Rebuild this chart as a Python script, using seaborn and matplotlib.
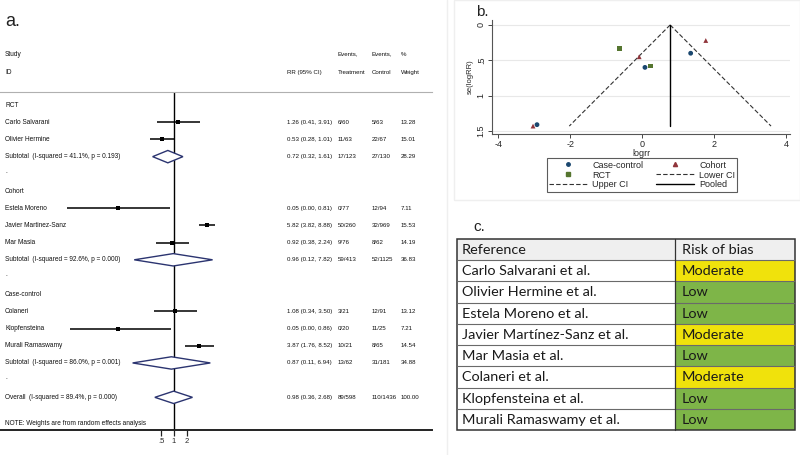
import matplotlib
matplotlib.use("Agg")
import numpy as np
import pandas as pd
import matplotlib.pyplot as plt
import seaborn as sns
from matplotlib import transforms, font_manager
from matplotlib.patches import Polygon, Rectangle
from matplotlib.lines import Line2D
from matplotlib.ticker import NullLocator

# ---- data: forest plot (a) ----
groups = ["RCT", "Cohort", "Case-control"]
studies = ["Carlo Salvarani", "Olivier Hermine", "Estela Moreno", "Javier Martinez-Sanz",
           "Mar Masia", "Colaneri", "Klopfensteina", "Murali Ramaswamy"]
study_group = ["RCT", "RCT", "Cohort", "Cohort", "Cohort", "Case-control", "Case-control", "Case-control"]
rr = [1.26, 0.53, 0.05, 5.82, 0.92, 1.08, 0.05, 3.87]
rr_lo = [0.41, 0.28, 0.0034, 3.82, 0.38, 0.34, 0.0039, 1.76]
rr_hi = [3.91, 1.01, 0.81, 8.88, 2.24, 3.50, 0.86, 8.52]
events_t = ["6/60", "11/63", "0/77", "50/260", "9/76", "3/21", "0/20", "10/21"]
events_c = ["5/63", "22/67", "12/94", "32/969", "8/62", "12/91", "11/25", "8/65"]
weight = [13.28, 15.01, 7.11, 15.53, 14.19, 13.12, 7.21, 14.54]

sub_labels = ["Subtotal  (I-squared = 41.1%, p = 0.193)",
              "Subtotal  (I-squared = 92.6%, p = 0.000)",
              "Subtotal  (I-squared = 86.0%, p = 0.001)",
              "Overall  (I-squared = 89.4%, p = 0.000)"]
sub_rr = [0.72, 0.96, 0.87, 0.98]
sub_lo = [0.32, 0.12, 0.11, 0.36]
sub_hi = [1.61, 7.82, 6.94, 2.68]
sub_ev_t = ["17/123", "59/413", "13/62", "89/598"]
sub_ev_c = ["27/130", "52/1125", "31/181", "110/1436"]
sub_w = [28.29, 36.83, 34.88, 100.00]

# ---- data: funnel plot (b) ----
design = ["RCT", "RCT", "Cohort", "Cohort", "Cohort", "Case-control", "Case-control", "Case-control"]
logrr = [0.23, -0.63, -3.03, 1.77, -0.08, 0.08, -2.92, 1.35]
se_logrr = [0.58, 0.33, 1.43, 0.22, 0.45, 0.60, 1.41, 0.40]
pooled = 0.78
se_max = 1.43

# ---- data: risk of bias table (c) ----
refs = ["Carlo Salvarani et al.", "Olivier Hermine et al.", "Estela Moreno et al.",
        "Javier Martínez-Sanz et al.", "Mar Masia et al.", "Colaneri et al.",
        "Klopfensteina et al.", "Murali Ramaswamy et al."]
risk = ["Moderate", "Low", "Low", "Moderate", "Low", "Moderate", "Low", "Low"]

sns.set_theme(style="white")
names = {f.name for f in font_manager.fontManager.ttflist}
narrow = "Liberation Sans Narrow" if "Liberation Sans Narrow" in names else "Liberation Sans"
plt.rcParams["font.family"] = ["Liberation Sans", "DejaVu Sans"]

W, H = 800, 455
fig = plt.figure(figsize=(8, 4.55), dpi=100)


def fx(px):
    return px / W


def fy(py):
    return 1 - py / H


is_narrow = narrow != "Liberation Sans"
tk = dict(family=narrow, fontsize=5.6 if is_narrow else 4.7, color="#111111", va="center")
tn = dict(family=narrow, fontsize=5.4 if is_narrow else 4.4, color="#111111", va="center")

# ---------------- panel a: forest plot ----------------
ax = fig.add_axes([0, fy(430), 432 / W, (430 - 92) / H])
ax.set_xscale("log", base=2)
ax.set_xlim(2 ** (-174 / 13), 2 ** (258 / 13))
ax.set_ylim(18.9, -0.76)
tr = transforms.blended_transform_factory(fig.transFigure, ax.transData)

col_rr, col_t, col_c, col_w = fx(287), fx(338), fx(372), fx(401)

row = 0
rows_study = []
rows_sub = []
for g in groups:
    ax.text(fx(5), row, g, transform=tr, **tk)
    row += 1
    for i, s in enumerate(studies):
        if study_group[i] == g:
            rows_study.append(row)
            row += 1
    rows_sub.append(row)
    row += 1
    ax.text(fx(5), row - 0.15, ".", transform=tr, **tk)
    row += 1
rows_sub.append(row)

for i, r in enumerate(rows_study):
    ax.text(fx(5), r, studies[i], transform=tr, **tk)
    ax.text(col_rr, r, f"{rr[i]:.2f} ({rr_lo[i]:.2f}, {rr_hi[i]:.2f})", transform=tr, **tn)
    ax.text(col_t, r, events_t[i], transform=tr, **tn)
    ax.text(col_c, r, events_c[i], transform=tr, **tn)
    ax.text(col_w, r, f"{weight[i]:.2f}", transform=tr, **tn)
ax.hlines(rows_study, rr_lo, rr_hi, color="black", lw=1.1)
sns.scatterplot(x=rr, y=rows_study, marker="s", color="black", s=7, linewidth=0, ax=ax)

for k, r in enumerate(rows_sub):
    ax.text(fx(5), r, sub_labels[k], transform=tr, **tk)
    ax.text(col_rr, r, f"{sub_rr[k]:.2f} ({sub_lo[k]:.2f}, {sub_hi[k]:.2f})", transform=tr, **tn)
    ax.text(col_t, r, sub_ev_t[k], transform=tr, **tn)
    ax.text(col_c, r, sub_ev_c[k], transform=tr, **tn)
    ax.text(col_w, r, f"{sub_w[k]:.2f}", transform=tr, **tn)
    d = Polygon([(sub_lo[k], r), (sub_rr[k], r - 0.36), (sub_hi[k], r), (sub_rr[k], r + 0.36)],
                closed=True, facecolor="white", edgecolor="#2b3470", lw=1.0, zorder=3)
    ax.add_patch(d)

ax.text(fx(5), 18.5, "NOTE: Weights are from random effects analysis", transform=tr, **tk)

# headers
ax.text(fx(5), -2.97, "Study", transform=tr, **tk)
ax.text(fx(5), -1.92, "ID", transform=tr, **tk)
ax.text(col_rr, -1.92, "RR (95% CI)", transform=tr, **tn)
ax.text(col_t, -2.97, "Events,", transform=tr, **tn)
ax.text(col_t, -1.92, "Treatment", transform=tr, **tn)
ax.text(col_c, -2.97, "Events,", transform=tr, **tn)
ax.text(col_c, -1.92, "Control", transform=tr, **tn)
ax.text(col_w, -2.97, "%", transform=tr, **tn)
ax.text(col_w, -1.92, "Weight", transform=tr, **tn)

ax.axvline(1, color="black", lw=1.0, zorder=2)
ax.axvline(sub_rr[-1], color="black", lw=0.6, ls=(0, (3, 2)), zorder=2)

for side in ["left", "right"]:
    ax.spines[side].set_visible(False)
ax.spines["top"].set_color("#b0b0b0")
ax.spines["top"].set_linewidth(0.8)
ax.spines["bottom"].set_color("#222222")
ax.spines["bottom"].set_linewidth(1.4)
ax.set_yticks([])
ax.xaxis.set_minor_locator(NullLocator())
ax.set_xticks([0.5, 1, 2])
ax.set_xticklabels([".5", "1", "2"], family=narrow, fontsize=5.5)
ax.tick_params(axis="x", direction="out", length=4.5, width=0.9, color="#222222", pad=1.5, bottom=True)

fig.text(fx(5), fy(22), "a.", fontsize=13, va="center", ha="left", color="#222222")

# ---------------- panel b: funnel plot ----------------
fig.add_artist(Rectangle((fx(454), fy(200)), (W - 454) / W, 200 / H, transform=fig.transFigure,
                         facecolor="none", edgecolor="#efefef", lw=1.0))
fig.add_artist(Line2D([fx(447), fx(447)], [0, 1], transform=fig.transFigure, color="#efefef", lw=1.0))

axb = fig.add_axes([fx(492), fy(134), 298 / W, 114 / H])
fun = pd.DataFrame({"logrr": logrr, "se": se_logrr, "design": design})
pal = {"Case-control": "#1a476f", "Cohort": "#90353b", "RCT": "#55752f"}
mk = {"Case-control": "o", "Cohort": "^", "RCT": "s"}
for yv in [0, 0.5, 1, 1.5]:
    axb.axhline(yv, color="#e8e8e8", lw=0.8, zorder=0)
axb.plot([pooled, pooled - 1.96 * se_max], [0, se_max], color="#333333", lw=0.8, ls=(0, (4, 2)))
axb.plot([pooled, pooled + 1.96 * se_max], [0, se_max], color="#333333", lw=0.8, ls=(0, (4, 2)))
axb.plot([pooled, pooled], [0, se_max], color="black", lw=1.0)
sns.scatterplot(data=fun, x="logrr", y="se", hue="design", style="design", palette=pal,
                markers=mk, s=12, linewidth=0, legend=False, ax=axb, zorder=3)
axb.set_xlim(-4.17, 4.11)
axb.set_ylim(1.542, -0.07)
axb.set_xticks([-4, -2, 0, 2, 4])
axb.set_xticklabels(["-4", "-2", "0", "2", "4"], fontsize=6.5)
axb.set_yticks([0, 0.5, 1, 1.5])
axb.set_yticklabels(["0", ".5", "1", "1.5"], fontsize=6.5, rotation=90, va="center")
axb.tick_params(direction="out", length=3, width=0.7, color="#444444", pad=1.5, left=True, bottom=True)
axb.set_xlabel("logrr", fontsize=6.5, labelpad=0)
axb.set_ylabel("se(logRR)", fontsize=5.5, labelpad=2)
for side in ["top", "right"]:
    axb.spines[side].set_visible(False)
for side in ["left", "bottom"]:
    axb.spines[side].set_color("#555555")
    axb.spines[side].set_linewidth(0.8)

handles = [
    Line2D([], [], marker="o", color=pal["Case-control"], ls="none", markersize=2.5),
    Line2D([], [], marker="s", color=pal["RCT"], ls="none", markersize=2.5),
    Line2D([], [], color="#333333", lw=0.8, ls=(0, (4, 2))),
    Line2D([], [], marker="^", color=pal["Cohort"], ls="none", markersize=3),
    Line2D([], [], color="#333333", lw=0.8, ls=(0, (4, 2))),
    Line2D([], [], color="black", lw=1.0),
]
labels = ["Case-control", "RCT", "Upper CI", "Cohort", "Lower CI", "Pooled"]
leg = fig.legend(handles, labels, loc="center", bbox_to_anchor=(fx(642), fy(175)), ncol=2,
                 fontsize=6.5, frameon=True, fancybox=False, edgecolor="#333333", handlelength=4.2,
                 columnspacing=1.4, borderpad=0.25, labelspacing=0.1, handletextpad=0.6)
leg.get_frame().set_linewidth(0.8)

fig.text(fx(476), fy(12), "b.", fontsize=11, va="center", ha="left", color="#222222")

# ---------------- panel c: risk of bias table ----------------
fig.text(fx(473), fy(227), "c.", fontsize=11, va="center", ha="left", color="#222222")
axt = fig.add_axes([fx(457), fy(430), 338 / W, 191 / H])
axt.set_xlim(0, 338)
axt.set_ylim(len(refs) + 1, 0)
axt.axis("off")
split = 218
risk_col = {"Moderate": "#f0e20c", "Low": "#7eb548"}
axt.add_patch(Rectangle((0, 0), 338, 1, facecolor="#efefef", edgecolor="none"))
for i, (ref, rk) in enumerate(zip(refs, risk)):
    axt.add_patch(Rectangle((split, i + 1), 338 - split, 1, facecolor=risk_col[rk], edgecolor="none"))
tfont = dict(family=["Lato", "DejaVu Sans"], fontsize=10.4, color="#1a1a1a", va="center")
axt.text(5, 0.52, "Reference", **tfont)
axt.text(split + 7, 0.52, "Risk of bias", **tfont)
for i, (ref, rk) in enumerate(zip(refs, risk)):
    axt.text(5, i + 1.52, ref, **tfont)
    axt.text(split + 7, i + 1.52, rk, **tfont)
for i in range(1, len(refs) + 1):
    axt.plot([0, 338], [i, i], color="#6a6a6a", lw=0.8, clip_on=False)
axt.plot([split, split], [0, len(refs) + 1], color="#333333", lw=0.9, clip_on=False)
axt.add_patch(Rectangle((0, 0), 338, len(refs) + 1, facecolor="none", edgecolor="#333333",
                        lw=1.1, clip_on=False))

fig.savefig("out.png", dpi=100)
